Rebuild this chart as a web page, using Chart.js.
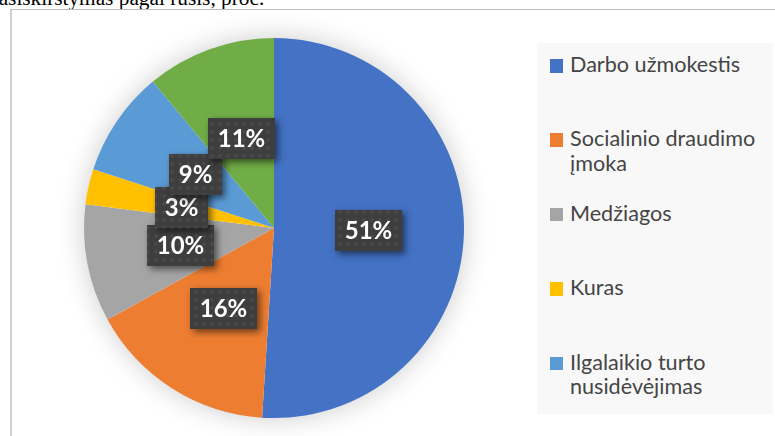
<!DOCTYPE html>
<html>
<head>
<meta charset="utf-8">
<script src="https://cdn.jsdelivr.net/npm/chart.js@4/dist/chart.umd.min.js"></script>
<style>
  html, body { margin: 0; padding: 0; background: #ffffff; }
  body { width: 775px; height: 436px; position: relative; overflow: hidden; }
  #title { position: absolute; left: -12px; top: -12px; font-family: "Liberation Serif", "Times New Roman", serif; font-size: 21.3px; line-height: 20px; color: #000; white-space: nowrap; }
  #frame { position: absolute; left: 10px; top: 9px; width: 780px; height: 440px; border-left: 2px solid #cfcfcf; border-top: 1px solid #bdbdbd; }
  #chart { position: absolute; left: 0; top: 0; }
  #legend { position: absolute; left: 537px; top: 43px; width: 236px; height: 371px; background: #f8f8f8; overflow: hidden; }
  .item { position: absolute; left: 13px; width: 222px; font-family: Lato, "Open Sans", sans-serif; font-size: 21.6px; line-height: 24.5px; color: #454545; }
  .sw { position: absolute; left: 0; width: 12.7px; height: 13.7px; }
  .tx { position: absolute; left: 20px; width: 202px; }
</style>
</head>
<body>
<div id="title">pasiskirstymas pagal rūšis, proc.</div>
<div id="frame"></div>
<canvas id="chart" width="775" height="436"></canvas>
<div id="legend"></div>
<script>
const categories = ["Darbo užmokestis", "Socialinio draudimo įmoka", "Medžiagos", "Kuras", "Ilgalaikio turto nusidėvėjimas", "Kitos"];
const shares = [51, 16, 10, 3, 9, 11];
const sliceColors = ["#4472C4", "#ED7D31", "#A5A5A5", "#FFC000", "#5B9BD5", "#70AD47"];

// HTML legend built from the arrays
const legend = document.getElementById('legend');
categories.forEach((name, i) => {
  const it = document.createElement('div');
  it.className = 'item';
  const baseline = 29.7 + i * 74.4; // relative to legend box
  it.style.top = (baseline - 20.8) + 'px';
  const sw = document.createElement('div');
  sw.className = 'sw';
  sw.style.background = sliceColors[i];
  sw.style.top = '7px';
  const tx = document.createElement('div');
  tx.className = 'tx';
  tx.textContent = name;
  it.appendChild(sw); it.appendChild(tx);
  legend.appendChild(it);
});

// dotted dark pattern for label boxes
function makePattern(ctx) {
  const c = document.createElement('canvas');
  c.width = 8; c.height = 8;
  const p = c.getContext('2d');
  p.fillStyle = '#3e3e3e';
  p.fillRect(0, 0, 8, 8);
  const g = p.createRadialGradient(4, 4, 0, 4, 4, 3);
  g.addColorStop(0, 'rgba(90,90,90,0.9)');
  g.addColorStop(1, 'rgba(62,62,62,0)');
  p.fillStyle = g;
  p.fillRect(0, 0, 8, 8);
  return ctx.createPattern(c, 'repeat');
}

const pieShadow = {
  id: 'pieShadow',
  beforeDatasetsDraw(chart) {
    const meta = chart.getDatasetMeta(0);
    const a = meta.data[0];
    if (!a) return;
    const ctx = chart.ctx;
    ctx.save();
    ctx.shadowColor = 'rgba(0,0,0,0.22)';
    ctx.shadowBlur = 28;
    ctx.fillStyle = '#ffffff';
    ctx.beginPath();
    ctx.arc(a.x, a.y, a.outerRadius - 1, 0, Math.PI * 2);
    ctx.fill();
    ctx.restore();
  }
};

const boxLabels = {
  id: 'boxLabels',
  afterDatasetsDraw(chart) {
    const ctx = chart.ctx;
    const meta = chart.getDatasetMeta(0);
    const pattern = makePattern(ctx);
    ctx.save();
    ctx.font = 'bold 24px Lato, "Open Sans", sans-serif';
    ctx.textAlign = 'center';
    ctx.textBaseline = 'middle';
    meta.data.forEach((arc, i) => {
      const pos = arc.tooltipPosition();
      const text = shares[i] + '%';
      const tw = ctx.measureText(text).width;
      const w = Math.round(tw + 19), h = 41;
      const x = Math.round(pos.x - w / 2), y = Math.round(pos.y - h / 2);
      ctx.save();
      ctx.shadowColor = 'rgba(0,0,0,0.55)';
      ctx.shadowBlur = 7;
      ctx.shadowOffsetX = 3;
      ctx.shadowOffsetY = 3;
      ctx.fillStyle = '#3e3e3e';
      ctx.fillRect(x, y, w, h);
      ctx.restore();
      ctx.fillStyle = pattern;
      ctx.fillRect(x, y, w, h);
      ctx.fillStyle = '#ffffff';
      ctx.fillText(text, x + w / 2, y + h / 2 + 1);
    });
    ctx.restore();
  }
};

new Chart(document.getElementById('chart'), {
  type: 'pie',
  data: {
    labels: categories,
    datasets: [{
      data: shares,
      backgroundColor: sliceColors,
      borderWidth: 0
    }]
  },
  options: {
    responsive: false,
    animation: false,
    devicePixelRatio: 1,
    layout: { padding: { left: 84, right: 311, top: 38, bottom: 18 } },
    plugins: {
      legend: { display: false },
      tooltip: { enabled: false },
      title: { display: false }
    }
  },
  plugins: [pieShadow, boxLabels]
});
</script>
</body>
</html>
